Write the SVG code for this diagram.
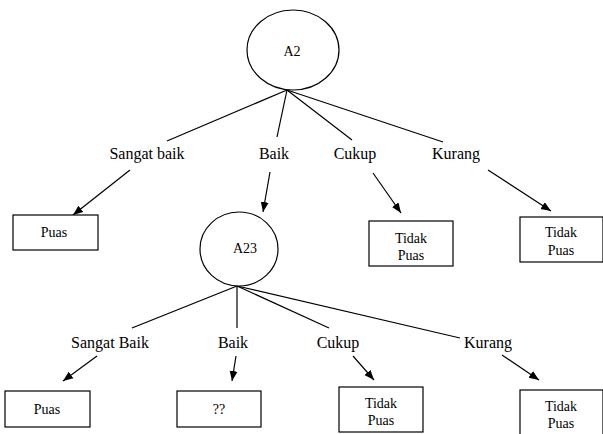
<svg xmlns="http://www.w3.org/2000/svg" width="603" height="434" viewBox="0 0 603 434">
  <defs>
    <marker id="arrow" markerUnits="userSpaceOnUse" markerWidth="10" markerHeight="10" viewBox="0 0 10 10" refX="10" refY="5" orient="auto">
      <path d="M0,1 L10,5 L0,9 Z" fill="#000"/>
    </marker>
    <style>
      .node-shape { fill: #fff; stroke: #000; stroke-width: 1.2; }
      .edge { stroke: #000; stroke-width: 1.2; fill: none; }
      .arrow { stroke: #000; stroke-width: 1.2; fill: none; marker-end: url(#arrow); }
      text { fill: #000; text-anchor: middle; }
      .label { font-size: 16px; }
      .box-text { font-size: 14px; }
    </style>
  </defs>
  <rect width="603" height="434" fill="#fff"/>

  <!-- connectors -->
  <g id="connectors">
    <!-- branches from A2 -->
    <line class="edge" x1="287" y1="90" x2="167" y2="141"/>
    <line class="edge" x1="287" y1="90" x2="277" y2="137"/>
    <line class="edge" x1="287" y1="90" x2="352" y2="140"/>
    <line class="edge" x1="287" y1="90" x2="443" y2="142"/>
    <line class="arrow" x1="130" y1="170" x2="73" y2="215"/>
    <line class="arrow" x1="270" y1="172" x2="263" y2="212"/>
    <line class="arrow" x1="373" y1="173" x2="401" y2="213"/>
    <line class="arrow" x1="488" y1="170" x2="551" y2="211"/>
    <!-- branches from A23 -->
    <line class="edge" x1="237" y1="286" x2="132" y2="328"/>
    <line class="edge" x1="237" y1="286" x2="237" y2="328"/>
    <line class="edge" x1="237" y1="286" x2="329" y2="328"/>
    <line class="edge" x1="237" y1="286" x2="460" y2="338"/>
    <line class="arrow" x1="97" y1="356" x2="63" y2="381"/>
    <line class="arrow" x1="236" y1="356" x2="232" y2="381"/>
    <line class="arrow" x1="353" y1="356" x2="374" y2="380"/>
    <line class="arrow" x1="502" y1="355" x2="539" y2="380"/>
  </g>

  <g font-family="Times New Roman, Times, Liberation Serif, Tinos, Noto Serif, DejaVu Serif, serif">
    <!-- branch labels -->
    <g id="labels">
      <text class="label" x="147" y="159">Sangat baik</text>
      <text class="label" x="274" y="159">Baik</text>
      <text class="label" x="355" y="159">Cukup</text>
      <text class="label" x="456" y="159">Kurang</text>
      <text class="label" x="110" y="348">Sangat Baik</text>
      <text class="label" x="233" y="348">Baik</text>
      <text class="label" x="338" y="348">Cukup</text>
      <text class="label" x="488" y="348">Kurang</text>
    </g>

    <g id="node-a2">
      <ellipse class="node-shape" cx="293" cy="50" rx="46" ry="40"/>
      <text class="box-text" x="292" y="56">A2</text>
    </g>

    <g id="node-puas-1">
      <rect class="node-shape" x="13" y="215" width="85" height="35"/>
      <text class="box-text" x="54" y="237">Puas</text>
    </g>

    <g id="node-a23">
      <ellipse class="node-shape" cx="239" cy="249" rx="39" ry="37"/>
      <text class="box-text" x="245" y="253">A23</text>
    </g>

    <g id="node-tidak-puas-1">
      <rect class="node-shape" x="369" y="221" width="84" height="45"/>
      <text class="box-text" x="411" y="243">Tidak</text>
      <text class="box-text" x="411" y="260">Puas</text>
    </g>

    <g id="node-tidak-puas-2">
      <rect class="node-shape" x="520" y="217" width="83" height="45"/>
      <text class="box-text" x="561" y="237">Tidak</text>
      <text class="box-text" x="561" y="255">Puas</text>
    </g>

    <g id="node-puas-2">
      <rect class="node-shape" x="5" y="391" width="85" height="36"/>
      <text class="box-text" x="47" y="414">Puas</text>
    </g>

    <g id="node-unknown">
      <rect class="node-shape" x="177" y="391" width="84" height="36"/>
      <text class="box-text" x="219" y="414">??</text>
    </g>

    <g id="node-tidak-puas-3">
      <rect class="node-shape" x="339" y="387" width="84" height="45"/>
      <text class="box-text" x="381" y="408">Tidak</text>
      <text class="box-text" x="381" y="425">Puas</text>
    </g>

    <g id="node-tidak-puas-4">
      <rect class="node-shape" x="520" y="390" width="83" height="50"/>
      <text class="box-text" x="561" y="411">Tidak</text>
      <text class="box-text" x="561" y="428">Puas</text>
    </g>
  </g>
</svg>
